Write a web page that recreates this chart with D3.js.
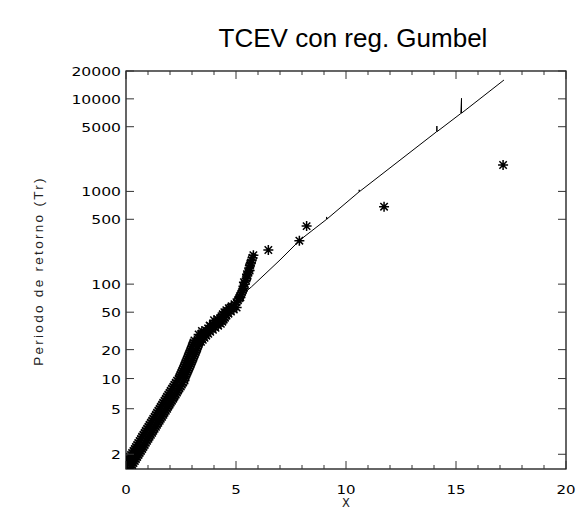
<!DOCTYPE html>
<html>
<head>
<meta charset="utf-8">
<script src="https://cdn.jsdelivr.net/npm/d3@7"></script>
<style>
  html, body { margin: 0; padding: 0; background: #fff; }
  svg { display: block; }
</style>
</head>
<body>
<svg id="chart" width="577" height="515"></svg>
<script>
// Observed sample: standardized value X and its empirical return period Tr
// (pooled stations, so the body of the sample carries close parallel runs)
const obsX = [
  // run A
  -0.40, -0.28, -0.17, -0.11, -0.06, 0.00, 0.06, 0.11, 0.17, 0.23, 0.28, 0.34, 0.40, 0.45, 0.51, 0.56,
  0.62, 0.68, 0.73, 0.79, 0.85, 0.90, 0.96, 1.02, 1.07, 1.13, 1.19, 1.24, 1.30, 1.36, 1.41, 1.47,
  1.53, 1.58, 1.64, 1.69, 1.75, 1.81, 1.86, 1.92, 1.98, 2.03, 2.09, 2.15, 2.20, 2.26, 2.32,
  2.40, 2.44, 2.48, 2.52, 2.56, 2.60, 2.64, 2.68, 2.71, 2.75, 2.79, 2.82, 2.86, 2.90, 2.93, 2.97,
  3.00, 3.04, 3.07, 3.11,
  // run B
  -0.06, 0.06, 0.17, 0.23, 0.28, 0.34, 0.40, 0.45, 0.51, 0.57, 0.62, 0.68, 0.74, 0.79, 0.85, 0.90,
  0.96, 1.02, 1.07, 1.13, 1.19, 1.24, 1.30, 1.36, 1.41, 1.47, 1.53, 1.58, 1.64, 1.70, 1.75, 1.81,
  1.87, 1.92, 1.98, 2.03, 2.09, 2.15, 2.20, 2.26, 2.32, 2.37, 2.43, 2.49, 2.54, 2.60, 2.66,
  2.66, 2.70, 2.74, 2.78, 2.82, 2.86, 2.90, 2.94, 2.97, 3.01, 3.05, 3.08, 3.12, 3.16, 3.19, 3.23,
  3.26, 3.30, 3.33, 3.37,
  // run C (mid range)
  3.41, 3.49, 3.57, 3.65, 3.74, 3.83, 3.95, 4.07, 4.19, 4.31, 4.38, 4.44, 4.50, 4.57, 4.66, 4.77,
  4.90, 5.03,
  // upper tail of the sample
  3.31, 3.39, 3.47, 3.55, 3.64, 3.73, 3.85, 3.97, 4.09, 4.21, 4.28, 4.34, 4.40, 4.47, 4.56, 4.67,
  4.80, 4.93, 5.02, 5.09, 5.14, 5.18, 5.23, 5.27, 5.31, 5.35, 5.40, 5.45, 5.51, 5.56, 5.60, 5.65,
  5.72, 5.79,
  3.30, 3.45, 3.80, 4.00, 4.15, 4.40, 4.55, 4.75, 5.20, 5.34, 5.36, 5.48, 5.50, 5.62, 5.63, 5.68, 5.75,
  // largest observations
  6.47, 7.88, 8.21, 11.73, 17.14
];
const obsT = [
  1.418, 1.495, 1.582, 1.629, 1.680, 1.733, 1.789, 1.848, 1.911, 1.977, 2.048, 2.121, 2.199, 2.281, 2.367, 2.459,
  2.555, 2.656, 2.763, 2.875, 2.993, 3.118, 3.249, 3.388, 3.532, 3.685, 3.845, 4.014, 4.191, 4.380, 4.577, 4.782,
  5.000, 5.230, 5.470, 5.724, 5.988, 6.270, 6.562, 6.873, 7.199, 7.541, 7.900, 8.278, 8.67, 9.09, 9.53,
  10.0, 10.48, 10.99, 11.53, 12.09, 12.69, 13.31, 13.96, 14.65, 15.39, 16.15, 16.95, 17.80, 18.69, 19.62, 20.59,
  21.61, 22.70, 23.82, 25.0,
  1.418, 1.495, 1.582, 1.629, 1.680, 1.733, 1.789, 1.848, 1.911, 1.977, 2.048, 2.121, 2.199, 2.281, 2.367, 2.459,
  2.555, 2.656, 2.763, 2.875, 2.993, 3.118, 3.249, 3.388, 3.532, 3.685, 3.845, 4.014, 4.191, 4.380, 4.577, 4.782,
  5.000, 5.230, 5.470, 5.724, 5.988, 6.270, 6.562, 6.873, 7.199, 7.541, 7.900, 8.278, 8.67, 9.09, 9.53,
  10.0, 10.48, 10.99, 11.53, 12.09, 12.69, 13.31, 13.96, 14.65, 15.39, 16.15, 16.95, 17.80, 18.69, 19.62, 20.59,
  21.61, 22.70, 23.82, 25.0,
  24.2, 25.4, 26.7, 28.1, 29.4, 30.9, 32.5, 34.1, 35.9, 37.6, 39.6, 41.6, 43.7, 45.9, 48.2, 50.7,
  53.3, 56.0,
  26.27, 27.6, 28.99, 30.5, 32.0, 33.6, 35.3, 37.1, 38.97, 40.9, 43.0, 45.2, 47.5, 49.9, 52.4, 55.1,
  57.9, 60.9, 63.9, 67.2, 70.6, 74.2, 78.0, 81.9, 86.1, 90.5, 100, 110.4, 122, 134.8, 149, 164.5,
  182, 205,
  29, 31.5, 36, 41, 42, 47, 50, 56, 72, 95, 105, 115, 128, 140, 158, 170, 192,
  233, 294, 422, 684, 1928
];

// Fitted TCEV growth curve (regional Gumbel parameters)
const lineX = [0.30, 1.70, 2.50, 3.15, 4.20, 5.00, 5.71, 7.00, 7.91, 9.12, 9.12, 9.13,
               10.60, 10.60, 10.61, 14.12, 14.13, 14.14, 15.22, 15.25, 15.25, 17.18];
const lineT = [1.85, 5.0, 9.7, 20, 40, 67.5, 93.8, 182, 299, 500, 530, 502,
               992, 1040, 994, 4418, 5085, 4430, 6950, 10140, 7000, 15985];

const xMajorTicks = [0, 5, 10, 15, 20];
const xMinorTicks = [1, 2, 3, 4, 6, 7, 8, 9, 11, 12, 13, 14, 16, 17, 18, 19];
const yTicks = [2, 5, 10, 20, 50, 100, 500, 1000, 5000, 10000, 20000];

const titleText = "TCEV con reg. Gumbel";
const xLabel = "X";
const yLabel = "Periodo de retorno (Tr)";

// Gumbel reduced variate: the vertical axis is linear in it
const gumbel = T => -Math.log(-Math.log(1 - 1 / T));

const plotL = 126, plotR = 566, plotT = 71, plotB = 469;
const x = d3.scaleLinear().domain([0, 20]).range([plotL, plotR]);
const y = d3.scaleLinear().domain([0, gumbel(20000)]).range([plotB, plotT]);
const yT = T => y(gumbel(T));

const svg = d3.select("#chart");

svg.append("defs").append("clipPath").attr("id", "plotClip")
  .append("rect").attr("x", plotL).attr("y", plotT)
  .attr("width", plotR - plotL).attr("height", plotB - plotT);

const plot = svg.append("g").attr("clip-path", "url(#plotClip)");

// fitted curve
const linePts = lineX.map((v, i) => ({ x: v, t: lineT[i] }));
plot.append("path")
  .datum(linePts)
  .attr("fill", "none")
  .attr("stroke", "#000")
  .attr("stroke-width", 1)
  .attr("d", d3.line().x(p => x(p.x)).y(p => yT(p.t)));

// observations drawn as asterisks
const r = 5, dg = 3.7;
const star = `M0,${-r}V${r}M${-r},0H${r}M${-dg},${-dg}L${dg},${dg}M${-dg},${dg}L${dg},${-dg}`;
const obs = obsX.map((v, i) => ({ x: v, t: obsT[i] }));
plot.append("g").selectAll("path")
  .data(obs).join("path")
  .attr("d", star)
  .attr("transform", p => `translate(${x(p.x)},${yT(p.t)})`)
  .attr("fill", "none")
  .attr("stroke", "#000")
  .attr("stroke-width", 1.5);

// frame
svg.append("rect")
  .attr("x", plotL).attr("y", plotT)
  .attr("width", plotR - plotL).attr("height", plotB - plotT)
  .attr("fill", "none").attr("stroke", "#000").attr("stroke-width", 1.2);

const ticks = svg.append("g").attr("stroke", "#333").attr("stroke-width", 1);
xMajorTicks.forEach(v => {
  ticks.append("line").attr("x1", x(v)).attr("x2", x(v)).attr("y1", plotB).attr("y2", plotB - 8);
  ticks.append("line").attr("x1", x(v)).attr("x2", x(v)).attr("y1", plotT).attr("y2", plotT + 8);
});
xMinorTicks.forEach(v => {
  ticks.append("line").attr("x1", x(v)).attr("x2", x(v)).attr("y1", plotB).attr("y2", plotB - 4);
  ticks.append("line").attr("x1", x(v)).attr("x2", x(v)).attr("y1", plotT).attr("y2", plotT + 4);
});
yTicks.forEach(v => {
  ticks.append("line").attr("x1", plotL).attr("x2", plotL + 8).attr("y1", yT(v)).attr("y2", yT(v));
  ticks.append("line").attr("x1", plotR).attr("x2", plotR - 8).attr("y1", yT(v)).attr("y2", yT(v));
});

// tick labels (wide digits)
const labelFont = "'DejaVu Sans', sans-serif";
xMajorTicks.forEach(v => {
  svg.append("g").attr("transform", `translate(${x(v)},494) scale(1.2,1)`)
    .append("text").attr("text-anchor", "middle")
    .attr("font-family", labelFont).attr("font-size", 12.5).attr("fill", "#000")
    .text(v);
});
yTicks.forEach(v => {
  svg.append("g").attr("transform", `translate(121,${yT(v) + 5}) scale(1.2,1)`)
    .append("text").attr("text-anchor", "end")
    .attr("font-family", labelFont).attr("font-size", 13).attr("fill", "#000")
    .text(v);
});

// title and axis titles
svg.append("text")
  .attr("x", 353).attr("y", 47)
  .attr("text-anchor", "middle")
  .attr("font-family", "'Liberation Sans', Arial, sans-serif")
  .attr("font-size", 26).attr("fill", "#000")
  .text(titleText);

svg.append("text")
  .attr("x", 346).attr("y", 507)
  .attr("text-anchor", "middle")
  .attr("font-family", labelFont).attr("font-size", 11.5).attr("fill", "#222")
  .text(xLabel);

svg.append("text")
  .attr("transform", "translate(43,271) rotate(-90)")
  .attr("text-anchor", "middle")
  .attr("font-family", "'Liberation Sans', Arial, sans-serif")
  .attr("font-size", 13.5).attr("letter-spacing", 2.3).attr("fill", "#222")
  .text(yLabel);
</script>
</body>
</html>
